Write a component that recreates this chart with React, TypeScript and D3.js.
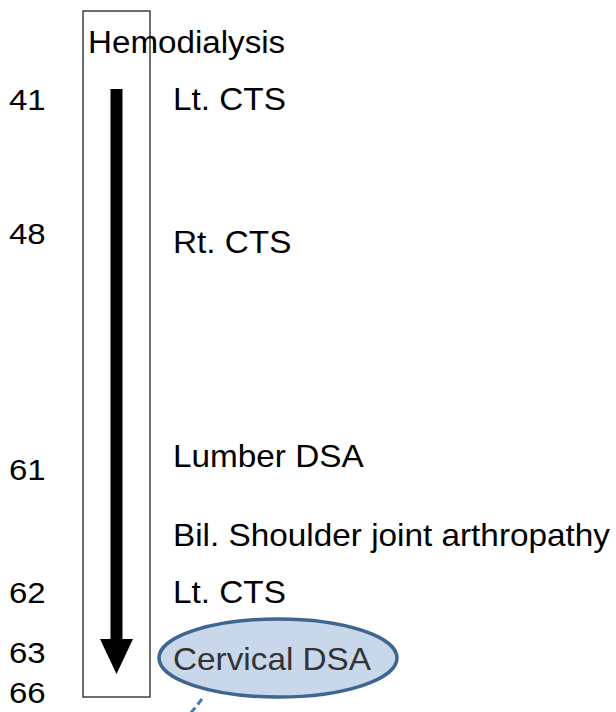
import React from "react";
import * as d3 from "d3";

const width = 616;
const height = 712;

// ages on the left, top to bottom
const ages = [41, 48, 61, 62, 63, 66];
// events on the right, top to bottom
const events = ["Lt. CTS", "Rt. CTS", "Lumber DSA", "Bil. Shoulder joint arthropathy", "Lt. CTS", "Cervical DSA"];
const title = "Hemodialysis";
const highlighted = "Cervical DSA";

const App = () => {
  // uneven time axis, so piecewise scales
  const ageY = d3.scaleLinear()
    .domain(ages)
    .range([110, 244, 480, 603, 663, 703]);
  const eventY = d3.scaleLinear()
    .domain(d3.range(events.length))
    .range([110, 253, 467, 546, 603, 670]);

  const box = { x0: 83, x1: 150, y0: 11, y1: 697 };
  const cx = (box.x0 + box.x1) / 2;
  const shaftTop = 89;
  const headTop = 639;
  const tip = 674;

  const arrowHead = d3.line()([
    [cx - 16.5, headTop],
    [cx + 16.5, headTop],
    [cx, tip],
  ]) + "Z";

  const font = "'Liberation Sans', Arial, sans-serif";
  const hi = events.indexOf(highlighted);
  const hiY = eventY(hi) - 12;
  const stretch = (x: number, k: number) => `translate(${x},0) scale(${k},1) translate(${-x},0)`;

  return (
    <svg width={width} height={height} style={{ position: "absolute", left: 0, top: 0, background: "#fff" }}>
      <rect x={box.x0} y={box.y0} width={box.x1 - box.x0} height={box.y1 - box.y0}
        fill="none" stroke="#222" strokeWidth={1.3} />
      <rect x={cx - 6} y={shaftTop} width={12} height={headTop - shaftTop + 1} fill="#000" />
      <path d={arrowHead} fill="#000" />

      <ellipse cx={278} cy={hiY} rx={119} ry={39} fill="#c8d7ea" stroke="#3f6591" strokeWidth={3.5} />
      <line x1={202} y1={699} x2={190} y2={714} stroke="#4a78b5" strokeWidth={3} strokeDasharray="7,4" />

      <text x={88} y={53} fontFamily={font} fontSize={31} fill="#000"
        transform={stretch(88, 1.07)}>{title}</text>

      {ages.map((a, i) => (
        <text key={"a" + i} x={9} y={ageY(a)} fontFamily={font} fontSize={30} fill="#000"
          transform={stretch(9, 1.1)}>{a}</text>
      ))}
      {events.map((e, i) => (
        <text key={"e" + i} x={173} y={eventY(i)} fontFamily={font} fontSize={31}
          fill={i === hi ? "#333" : "#000"}
          transform={stretch(173, 1.075)}>{e}</text>
      ))}
    </svg>
  );
};

export default App;
